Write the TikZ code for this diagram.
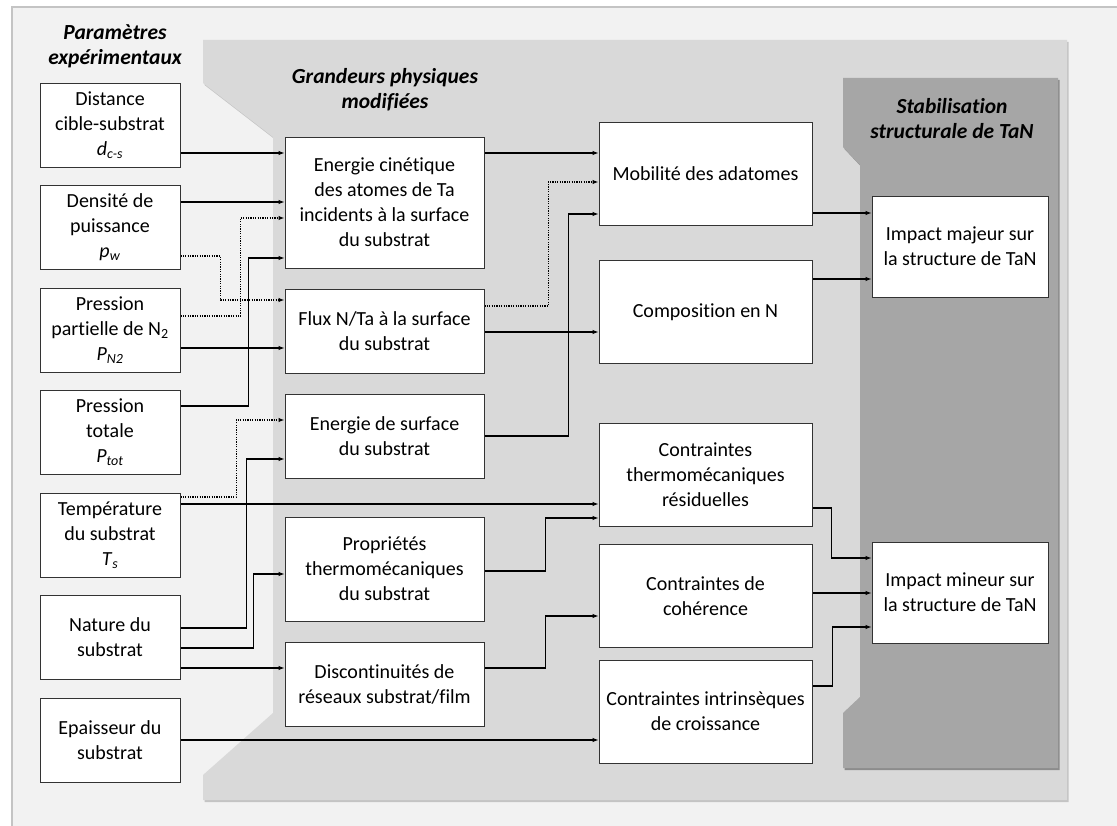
\documentclass[tikz,border=0pt]{standalone}
\usepackage{fontspec}
\setmainfont{Carlito}[Ligatures=NoCommon]
\usepackage{tikz}
\usetikzlibrary{arrows.meta}
\pgfdeclarelayer{panellayer}
\pgfdeclarelayer{edgelayer}
\pgfdeclarelayer{nodelayer}
\pgfsetlayers{panellayer,edgelayer,nodelayer,main}
\definecolor{fondclair}{HTML}{F2F2F2}
\definecolor{fondmoyen}{HTML}{D9D9D9}
\definecolor{fondfonce}{HTML}{A6A6A6}
\definecolor{ombre}{HTML}{C4C4C4}
\tikzstyle{none}=[inner sep=0pt, align=center, font=\fontsize{21.5}{25}\selectfont\bfseries\itshape]
\tikzstyle{box}=[rectangle, draw=black!80, line width=0.9pt, fill=white, align=center, inner sep=0pt, font=\fontsize{20}{25}\selectfont]
\tikzstyle{param}=[box, minimum width=140pt, minimum height=84pt]
\tikzstyle{grandeur}=[box, minimum width=199pt, minimum height=84pt]
\tikzstyle{effet}=[box, minimum width=213pt, minimum height=103pt]
\tikzstyle{impact}=[box, minimum width=176pt, minimum height=101pt]
\tikzstyle{edge}=[draw=black, line width=1.1pt, -{Latex[length=6pt,width=4.5pt]}]
\tikzstyle{dotedge}=[edge, line width=1.2pt, dash pattern=on 1.2pt off 1.2pt]

\begin{document}
\begin{tikzpicture}[x=1pt, y=-1pt]
	\useasboundingbox (0,0) rectangle (1117,826);
	\begin{pgfonlayer}{panellayer}
		\fill [white] (0,0) rectangle (1117,826);
		\fill [fondclair] (12,7) rectangle (1117,826);
		\draw [ombre, line width=1.5pt] (12,826) -- (12,7) -- (1117,7);
		\fill [ombre, shift={(1.5,2)}] (203,40) -- (1067,40) -- (1067,800) -- (203,800) -- (203,775) -- (273,713) -- (273,137) -- (203,83) -- cycle;
		\fill [fondmoyen] (203,40) -- (1067,40) -- (1067,800) -- (203,800) -- (203,775) -- (273,713) -- (273,137) -- (203,83) -- cycle;
		\fill [black!45, shift={(1.5,2)}] (843,78) -- (1058,78) -- (1058,768) -- (843,768) -- (843,713) -- (860,697) -- (860,165) -- (843,147) -- cycle;
		\fill [fondfonce] (843,78) -- (1058,78) -- (1058,768) -- (843,768) -- (843,713) -- (860,697) -- (860,165) -- (843,147) -- cycle;
	\end{pgfonlayer}
	\begin{pgfonlayer}{nodelayer}
		\node [style=none] (20) at (115, 46) {Paramètres\\expérimentaux};
		\node [style=none] (21) at (385, 90) {Grandeurs physiques\\modifiées};
		\node [style=none] (22) at (952, 119) {Stabilisation\\structurale de TaN};
		\node [style=param] (1) at (110, 125) {Distance\\cible-substrat\\\textit{d}\textsubscript{\textit{c-s}}};
		\node [style=param] (2) at (110, 227) {Densité de\\puissance\\\textit{p}\textsubscript{\textit{w}}};
		\node [style=param] (3) at (110, 330) {Pression\\partielle de N\textsubscript{2}\\\textit{P}\textsubscript{\textit{N2}}};
		\node [style=param] (4) at (110, 432) {Pression\\totale\\\textit{P}\textsubscript{\textit{tot}}};
		\node [style=param] (5) at (110, 535) {Température\\du substrat\\\textit{T}\textsubscript{\textit{s}}};
		\node [style=param] (6) at (110, 637) {Nature du\\substrat};
		\node [style=param] (7) at (110, 740) {Epaisseur du\\substrat};
		\node [style=grandeur, minimum height=131pt] (8) at (384.5, 202.5) {Energie cinétique\\des atomes de Ta\\incidents à la surface\\du substrat};
		\node [style=grandeur] (9) at (384.5, 331) {Flux N/Ta à la surface\\du substrat};
		\node [style=grandeur] (10) at (384.5, 436) {Energie de surface\\du substrat};
		\node [style=grandeur, minimum height=104pt] (11) at (384.5, 569) {Propriétés\\thermomécaniques\\du substrat};
		\node [style=grandeur] (12) at (384.5, 684) {Discontinuités de\\réseaux substrat/film};
		\node [style=effet] (13) at (705.5, 174) {Mobilité des adatomes};
		\node [style=effet] (14) at (705.5, 312) {Composition en N};
		\node [style=effet] (15) at (705.5, 474.5) {Contraintes\\thermomécaniques\\résiduelles};
		\node [style=effet] (16) at (705.5, 596) {Contraintes de\\cohérence};
		\node [style=effet] (17) at (705.5, 711.5) {Contraintes intrinsèques\\de croissance};
		\node [style=impact] (18) at (960, 246.5) {Impact majeur sur\\la structure de TaN};
		\node [style=impact] (19) at (960, 592.5) {Impact mineur sur\\la structure de TaN};
	\end{pgfonlayer}
	\begin{pgfonlayer}{edgelayer}
		\draw [style=edge] ([yshift=-28]1.east) -- ([yshift=49.5]8.west);
		\draw [style=edge] ([yshift=25]2.east) -- ([yshift=0.5]8.west);
		\draw [style=dotedge] ([yshift=-29]2.east) -- ++(40,0) |- ([yshift=31]9.west);
		\draw [style=dotedge] ([yshift=14]3.east) -- ++(60,0) |- ([yshift=-15.5]8.west);
		\draw [style=edge] ([yshift=-18]3.east) -- ([yshift=-17]9.west);
		\draw [style=edge] ([yshift=26]4.east) -- ++(68,0) |- ([yshift=-55.5]8.west);
		\draw [style=dotedge] ([yshift=38]5.east) -- ++(56,0) |- ([yshift=16]10.west);
		\draw [style=edge] ([yshift=31]5.east) -- ([yshift=-29.5]15.west);
		\draw [style=edge] ([yshift=9]6.east) -- ++(66,0) |- ([yshift=-23]10.west);
		\draw [style=edge] ([yshift=-11]6.east) -- ++(73,0) |- ([yshift=-5]11.west);
		\draw [style=edge] ([yshift=-31]6.east) -- ([yshift=16]12.west);
		\draw [style=edge] (7.east) -- ([yshift=-28.5]17.west);
		\draw [style=edge] ([yshift=49.5]8.east) -- ([yshift=21]13.west);
		\draw [style=dotedge] ([yshift=25]9.east) -- ++(64,0) |- ([yshift=-8]13.west);
		\draw [style=edge] ([yshift=-1]9.east) -- ([yshift=-20]14.west);
		\draw [style=edge] (10.east) -- ++(84,0) |- ([yshift=-40]13.west);
		\draw [style=edge] ([yshift=-2]11.east) -- ++(61,0) |- ([yshift=-43.5]15.west);
		\draw [style=edge] ([yshift=16]12.east) -- ++(61,0) |- ([yshift=-20]16.west);
		\draw [style=edge] ([yshift=-39]13.east) -- ([yshift=33.5]18.west);
		\draw [style=edge] ([yshift=33]14.east) -- ([yshift=-32.5]18.west);
		\draw [style=edge] ([yshift=-33.5]15.east) -- ++(19,0) |- ([yshift=34.5]19.west);
		\draw [style=edge] ([yshift=3]16.east) -- ([yshift=-0.5]19.west);
		\draw [style=edge] ([yshift=25.5]17.east) -- ++(20,0) |- ([yshift=-34.5]19.west);
	\end{pgfonlayer}
\end{tikzpicture}
\end{document}
